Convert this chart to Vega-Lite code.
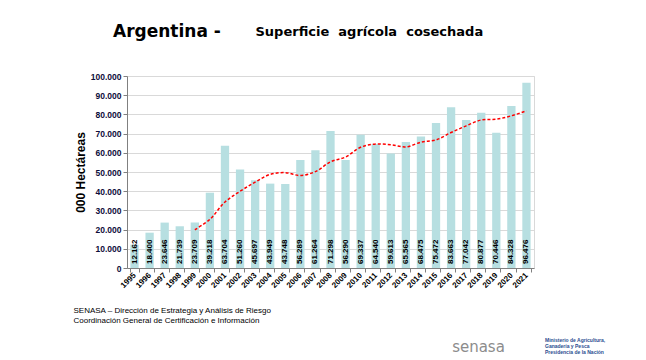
{
  "$schema": "https://vega.github.io/schema/vega-lite/v6.json",
  "width": 407,
  "height": 192,
  "autosize": "none",
  "padding": {"left": 127, "top": 76, "right": 112, "bottom": 92},
  "background": "white",
  "config": {
    "locale": {"number": {"decimal": ",", "thousands": ".", "grouping": [3], "currency": ["$", ""]}},
    "view": {"stroke": "#D9D9D9", "strokeWidth": 1},
    "font": "Liberation Sans"
  },
  "title": {
    "text": "Argentina -",
    "anchor": "start",
    "frame": "group",
    "dx": -14,
    "dy": 29,
    "offset": 0,
    "baseline": "alphabetic",
    "font": "DejaVu Sans",
    "fontSize": 17,
    "fontWeight": "bold",
    "color": "#000000"
  },
  "data": {
    "values": [
      {"year": "1995", "value": 12162, "ma": null},
      {"year": "1996", "value": 18400, "ma": null},
      {"year": "1997", "value": 23646, "ma": null},
      {"year": "1998", "value": 21739, "ma": null},
      {"year": "1999", "value": 23709, "ma": 19930},
      {"year": "2000", "value": 39218, "ma": 25340},
      {"year": "2001", "value": 63704, "ma": 34400},
      {"year": "2002", "value": 51260, "ma": 39930},
      {"year": "2003", "value": 45697, "ma": 44720},
      {"year": "2004", "value": 43949, "ma": 48770},
      {"year": "2005", "value": 43748, "ma": 49670},
      {"year": "2006", "value": 56289, "ma": 48190},
      {"year": "2007", "value": 61264, "ma": 50190},
      {"year": "2008", "value": 71298, "ma": 55310},
      {"year": "2009", "value": 56290, "ma": 57780},
      {"year": "2010", "value": 69337, "ma": 62900},
      {"year": "2011", "value": 64540, "ma": 64550},
      {"year": "2012", "value": 59613, "ma": 64220},
      {"year": "2013", "value": 65565, "ma": 63070},
      {"year": "2014", "value": 68475, "ma": 65510},
      {"year": "2015", "value": 75472, "ma": 66730},
      {"year": "2016", "value": 83663, "ma": 70560},
      {"year": "2017", "value": 77042, "ma": 74040},
      {"year": "2018", "value": 80877, "ma": 77110},
      {"year": "2019", "value": 70446, "ma": 77500},
      {"year": "2020", "value": 84328, "ma": 79270},
      {"year": "2021", "value": 96476, "ma": 81830}
    ]
  },
  "resolve": {"axis": {"x": "independent", "y": "independent"}},
  "layer": [
    {
      "mark": {"type": "bar", "color": "#B7DFE1"},
      "encoding": {
        "x": {
          "field": "year", "type": "ordinal",
          "scale": {"paddingInner": 0.45, "paddingOuter": 0.225},
          "axis": {
            "orient": "bottom",
            "labelAngle": -45, "labelAlign": "right", "labelBaseline": "middle",
            "labelFontSize": 8, "labelFontWeight": "bold", "labelColor": "#000000",
            "labelPadding": 2,
            "tickBand": "extent", "tickSize": 4, "tickColor": "#808080",
            "domainColor": "#808080",
            "title": ["SENASA – Dirección de Estrategia y Análisis de Riesgo", "Coordinación General de Certificación e Información"],
            "titleFont": "Liberation Sans", "titleFontSize": 8, "titleFontWeight": "normal",
            "titleColor": "#000000", "titleAlign": "left", "titleBaseline": "alphabetic",
            "titleAnchor": "start",
            "titleX": -54, "titleY": 44, "titleLineHeight": 10
          }
        },
        "y": {
          "field": "value", "type": "quantitative",
          "scale": {"domain": [0, 100000]},
          "axis": {
            "orient": "left",
            "values": [0, 10000, 20000, 30000, 40000, 50000, 60000, 70000, 80000, 90000, 100000],
            "format": ",.0f",
            "labelFontSize": 8.5, "labelFontWeight": "bold", "labelColor": "#0d0d3a",
            "labelPadding": 2,
            "grid": true, "gridColor": "#D9D9D9",
            "tickSize": 4, "tickColor": "#808080", "domainColor": "#808080",
            "title": "000 Hectáreas",
            "titleFont": "Liberation Sans", "titleFontSize": 12, "titleFontWeight": "bold",
            "titleColor": "#000000",
            "titleX": -47, "titleY": 96, "titleAlign": "center", "titleBaseline": "middle", "titleAngle": -90
          }
        }
      }
    },
    {
      "mark": {"type": "text", "angle": -90, "align": "left", "baseline": "middle", "dx": 4, "fontSize": 8, "fontWeight": "bold", "color": "#000000"},
      "encoding": {
        "x": {"field": "year", "type": "ordinal", "axis": null},
        "y": {"datum": 0, "type": "quantitative", "axis": null},
        "text": {"field": "value", "type": "quantitative", "format": ",.0f"}
      }
    },
    {
      "mark": {"type": "line", "color": "#FF0000", "strokeWidth": 1.5, "interpolate": "catmull-rom"},
      "encoding": {
        "x": {
          "field": "year", "type": "ordinal",
          "axis": {
            "orient": "top", "labels": false, "ticks": false, "domain": false, "grid": false,
            "title": "Superficie\u00a0 agrícola\u00a0 cosechada",
            "titleFont": "DejaVu Sans", "titleFontSize": 13, "titleFontWeight": "bold",
            "titleColor": "#000000", "titleAlign": "left", "titleBaseline": "alphabetic",
            "titleX": 128, "titleY": -41
          }
        },
        "y": {
          "field": "ma", "type": "quantitative",
          "axis": {
            "orient": "right", "labels": false, "ticks": false, "domain": false, "grid": false,
            "title": "senasa",
            "titleFont": "DejaVu Sans", "titleFontSize": 15, "titleFontWeight": "normal",
            "titleColor": "#8c8c8c", "titleAngle": 0, "titleAlign": "center", "titleBaseline": "middle",
            "titleX": -56, "titleY": 270
          }
        },
        "strokeDash": {
          "datum": "ministerio",
          "scale": {"range": [[3, 2]]},
          "legend": {
            "orient": "none", "legendX": 418, "legendY": 262,
            "title": ["Ministerio de Agricultura,", "Ganadería y Pesca", "Presidencia de la Nación"],
            "titleFont": "Liberation Sans", "titleFontSize": 5, "titleFontWeight": "bold",
            "titleColor": "#2a4d8f", "titleLineHeight": 6, "titlePadding": 0,
            "symbolOpacity": 0, "symbolSize": 1, "symbolStrokeWidth": 0,
            "labelExpr": "''", "labelFontSize": 1
          }
        }
      }
    }
  ]
}
